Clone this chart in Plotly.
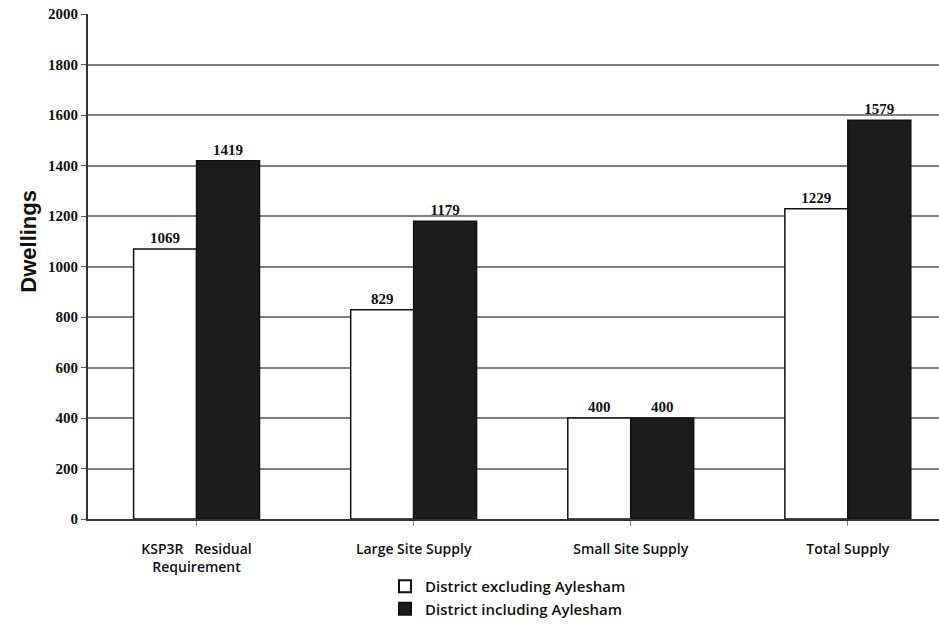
import plotly.graph_objects as go

categories = ["KSP3R   Residual<br>Requirement", "Large Site Supply", "Small Site Supply", "Total Supply"]
excluding = [1069, 829, 400, 1229]
including = [1419, 1179, 400, 1579]
series_names = ["District excluding Aylesham", "District including Aylesham"]
y_ticks = [0, 200, 400, 600, 800, 1000, 1200, 1400, 1600, 1800, 2000]

label_font = dict(family="Liberation Serif", size=15, color="#111111")

fig = go.Figure()
fig.add_trace(go.Bar(
    x=list(range(len(categories))), y=excluding, name=series_names[0],
    marker=dict(color="#ffffff", line=dict(color="#111111", width=1.5)),
    text=[f"<b>{v}</b>" for v in excluding], textposition="outside",
    textfont=label_font, cliponaxis=False,
))
fig.add_trace(go.Bar(
    x=list(range(len(categories))), y=including, name=series_names[1],
    marker=dict(color="#1c1c1c", line=dict(color="#111111", width=1.5)),
    text=[f"<b>{v}</b>" for v in including], textposition="outside",
    textfont=label_font, cliponaxis=False,
))

fig.update_layout(
    width=939, height=625,
    margin=dict(l=88, r=0, t=14, b=106, autoexpand=False),
    paper_bgcolor="white", plot_bgcolor="white",
    barmode="group", bargap=0.42, bargroupgap=0,
    showlegend=True,
    legend=dict(
        x=0.349, y=-0.101, xanchor="left", yanchor="top",
        orientation="v", tracegroupgap=0,
        font=dict(family="Open Sans", size=15, color="#111111", weight=600),
        itemsizing="constant", traceorder="normal", itemwidth=30,
    ),
)

fig.update_xaxes(
    range=[-0.5, 3.42], automargin=False,
    tickmode="array", tickvals=list(range(len(categories))), ticktext=categories,
    tickfont=dict(family="Open Sans", size=14, color="#111111", weight=600),
    ticks="outside", tickson="boundaries", ticklen=5, tickcolor="#888888",
    ticklabelstandoff=11,
    showline=True, linecolor="#333333", linewidth=2,
    showgrid=False, zeroline=False,
)
fig.update_yaxes(
    range=[0, 2000], automargin=False,
    tickmode="array", tickvals=y_ticks,
    tickfont=dict(family="Liberation Serif", size=15, color="#111111", weight="bold"),
    ticks="outside", ticklen=5, tickcolor="#555555",
    showline=True, linecolor="#333333", linewidth=2,
    showgrid=True, gridcolor="#7f7f7f", gridwidth=1.5,
    zeroline=False,
)

fig.add_annotation(
    text="<b>Dwellings</b>", xref="paper", yref="paper",
    x=-0.087, y=0.55, textangle=-90, showarrow=False,
    font=dict(family="Liberation Sans", size=22, color="#111111"),
)

fig.write_html("out.html")
